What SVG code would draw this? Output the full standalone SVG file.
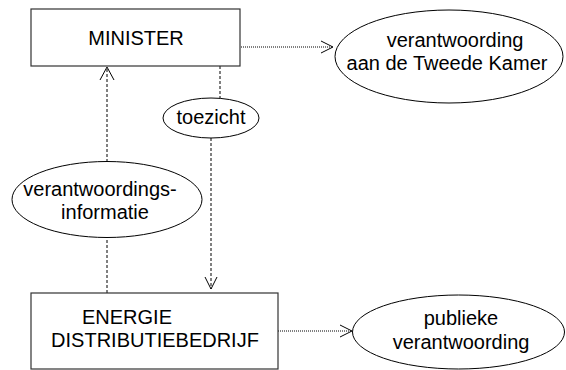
<svg xmlns="http://www.w3.org/2000/svg" width="566" height="370" viewBox="0 0 566 370">
<style>
  .box { fill: #fff; stroke: #333; stroke-width: 1.2; }
  .ell { fill: #fff; stroke: #000; stroke-width: 1; }
  .t { font-family: "Liberation Sans", Arial, sans-serif; font-size: 20px; fill: #000; text-anchor: middle; }
  .dash { stroke: #000; stroke-width: 1; stroke-dasharray: 3 2; fill: none; }
  .dot { stroke: #000; stroke-width: 1; stroke-dasharray: 1 1; fill: none; }
  .head { stroke: #000; stroke-width: 1; fill: none; }
</style>
<rect width="566" height="370" fill="#fff"/>
<g id="connectors">
  <line class="dot" x1="241" y1="47" x2="333" y2="47"/>
  <polyline class="head" points="321,41 333,47 321,53"/>
  <line class="dash" x1="107" y1="293" x2="107" y2="237"/>
  <line class="dash" x1="107" y1="162" x2="107" y2="67"/>
  <polyline class="head" points="100,80 107,67 114,80"/>
  <line class="dash" x1="220" y1="66" x2="220" y2="99"/>
  <line class="dash" x1="211" y1="138" x2="211" y2="289"/>
  <polyline class="head" points="205,277 211,289 217,277"/>
  <line class="dot" x1="278" y1="331" x2="352" y2="331"/>
  <polyline class="head" points="340,325 352,331 340,337"/>
</g>
<g id="minister">
  <rect class="box" x="31" y="9" width="209" height="57"/>
  <text class="t" x="136" y="45">MINISTER</text>
</g>
<g id="tweede-kamer">
  <ellipse class="ell" cx="449" cy="56.5" rx="114" ry="46.5"/>
  <text class="t" x="455" y="47">verantwoording</text>
  <text class="t" x="447" y="70">aan de Tweede Kamer</text>
</g>
<g id="toezicht">
  <ellipse class="ell" cx="211" cy="118" rx="48" ry="20"/>
  <text class="t" x="211" y="124">toezicht</text>
</g>
<g id="verantwoordingsinformatie">
  <ellipse class="ell" cx="107" cy="199.5" rx="95" ry="38"/>
  <text class="t" x="100" y="196">verantwoordings-</text>
  <text class="t" x="105" y="219">informatie</text>
</g>
<g id="energie">
  <rect class="box" x="31" y="293" width="247" height="76"/>
  <text class="t" x="82" y="324" style="text-anchor:start">ENERGIE</text>
  <text class="t" x="155" y="347">DISTRIBUTIEBEDRIJF</text>
</g>
<g id="publieke">
  <ellipse class="ell" cx="458.5" cy="332" rx="106" ry="37"/>
  <text class="t" x="461" y="325">publieke</text>
  <text class="t" x="461" y="349">verantwoording</text>
</g>
</svg>
